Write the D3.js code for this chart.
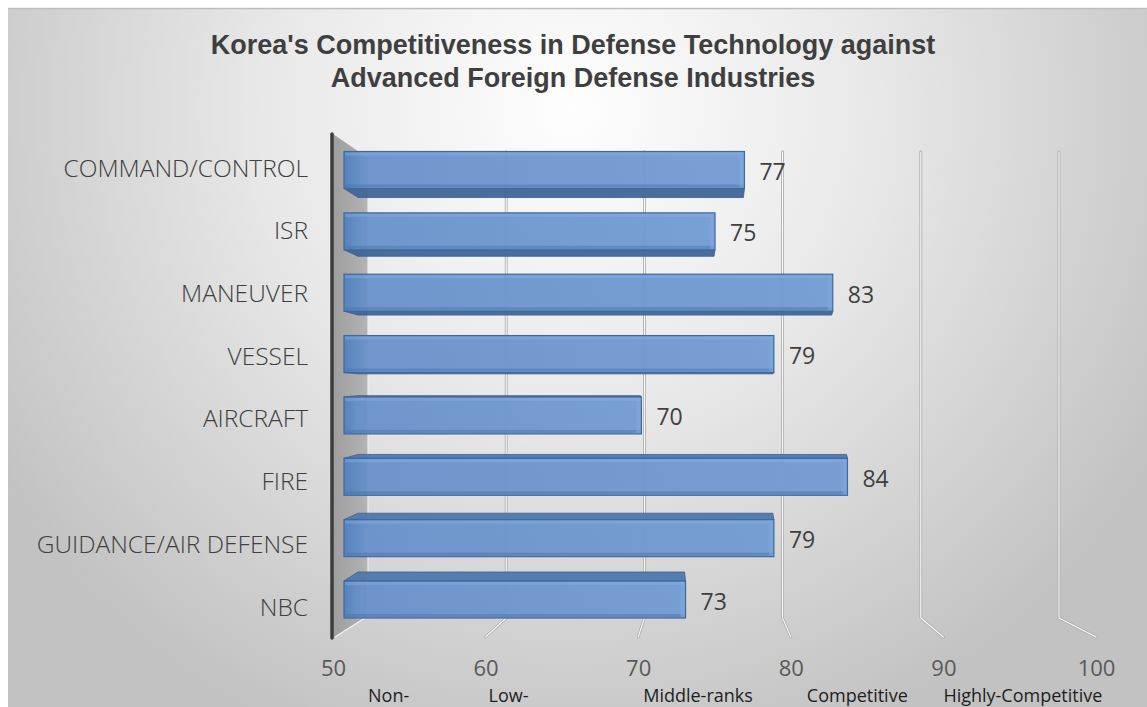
<!DOCTYPE html>
<html><head><meta charset="utf-8">
<script src="https://cdn.jsdelivr.net/npm/d3@7"></script>
<style>html,body{margin:0;padding:0;background:#fff;}svg{display:block;}</style>
</head><body>
<script>
const categories = ["COMMAND/CONTROL","ISR","MANEUVER","VESSEL","AIRCRAFT","FIRE","GUIDANCE/AIR DEFENSE","NBC"];
const values = [77,75,83,79,70,84,79,73];
const tickValues = [50,60,70,80,90,100];
const levelLabels = ["Non-","Low-","Middle-ranks","Competitive","Highly-Competitive"];
const titleLines = ["Korea's Competitiveness in Defense Technology against","Advanced Foreign Defense Industries"];

const W = 1147, H = 707;
const svg = d3.select("body").append("svg").attr("width", W).attr("height", H);
const defs = svg.append("defs");

// background gradient
const bg = defs.append("radialGradient").attr("id","bg").attr("gradientUnits","userSpaceOnUse")
  .attr("cx",570).attr("cy",110).attr("r",680);
bg.append("stop").attr("offset",0).attr("stop-color","#fefefe");
bg.append("stop").attr("offset",0.45).attr("stop-color","#e8e8e8");
bg.append("stop").attr("offset",1).attr("stop-color","#c2c2c2");
svg.append("rect").attr("x",8).attr("y",8).attr("width",W-8).attr("height",H-8).attr("fill","url(#bg)");
svg.append("line").attr("x1",8).attr("x2",W).attr("y1",8.5).attr("y2",8.5).attr("stroke","#bdbdbd").attr("stroke-width",1.5);

// scales (front plane, back plane, bar plane)
const domain = [50,100];
const xFront = d3.scaleLinear().domain(domain).range([333,1096]);
const xBack  = d3.scaleLinear().domain(domain).range([368,1059]);
const xBar   = d3.scaleLinear().domain(domain).range([347,1083]);
const yLabel = d3.scalePoint().domain(categories).range([167,606]);
const yBar   = d3.scalePoint().domain(categories).range([170,599.5]);
const frontH = 37;
const eyeY = 385, persp = 0.042;
const backTop = 152, backBottom = 618, frontBottom = 637;

// title
svg.append("g").selectAll("text").data(titleLines).join("text")
  .attr("x",573).attr("y",(d,i)=>54+i*33).attr("text-anchor","middle")
  .attr("font-family","'Liberation Sans', Arial, sans-serif").attr("font-weight","bold")
  .attr("font-size",27).attr("fill","#3f3f3f").text(d=>d);

// side wall
const wg = defs.append("linearGradient").attr("id","wall").attr("x1",0).attr("x2",1).attr("y1",0).attr("y2",0);
wg.append("stop").attr("offset",0).attr("stop-color","#9e9e9e");
wg.append("stop").attr("offset",1).attr("stop-color","#b3b3b3");
svg.append("path").attr("d",`M333,134 L${xBack(50)},158 L${xBack(50)},${backBottom-2} L333,638 Z`).attr("fill","url(#wall)");
svg.append("line").attr("x1",xBack(50)).attr("x2",xBack(50)).attr("y1",158).attr("y2",backBottom-2)
  .attr("stroke","#ececec").attr("stroke-width",1.2);
svg.append("line").attr("x1",335).attr("y1",637).attr("x2",xBack(50)-3).attr("y2",backBottom)
  .attr("stroke","#f2f2f2").attr("stroke-width",1.4);

// gridlines (3D)
const grid = svg.append("g");
const gridTicks = tickValues.filter(v=>v>50);
const gpath = v => `M${xBack(v)},${backTop} L${xBack(v)},${backBottom} L${xFront(v)},${frontBottom}`;
grid.selectAll("path.o").data(gridTicks).join("path").attr("class","o").attr("d",gpath)
  .attr("fill","none").attr("stroke","#acacac").attr("stroke-width",2.8).attr("stroke-linejoin","round").attr("stroke-linecap","round");
grid.selectAll("path.i").data(gridTicks).join("path").attr("class","i").attr("d",gpath)
  .attr("fill","none").attr("stroke","#fbfbfb").attr("stroke-width",1.1).attr("stroke-linejoin","round").attr("stroke-linecap","round");

// front axis line
svg.append("line").attr("x1",332).attr("x2",332).attr("y1",134).attr("y2",638)
  .attr("stroke","#3c3c3c").attr("stroke-width",3.5).attr("stroke-linecap","round");

// bar gradients
const fg = defs.append("linearGradient").attr("id","barFront").attr("x1",0).attr("x2",1).attr("y1",0).attr("y2",0);
fg.append("stop").attr("offset",0).attr("stop-color","#5080bd");
fg.append("stop").attr("offset",0.035).attr("stop-color","#608dc8");
fg.append("stop").attr("offset",0.05).attr("stop-color","#6590ca");
fg.append("stop").attr("offset",1).attr("stop-color","#6f9ad2");

const bars = svg.append("g").selectAll("g").data(categories.map((c,i)=>({c, v:values[i]}))).join("g");
bars.each(function(d){
  const g = d3.select(this);
  const cy = yBar(d.c);
  const x0 = xBar(50) - 3, x1 = xBar(d.v);
  const yt = cy - frontH/2, yb = cy + frontH/2;
  const dy = (eyeY - cy) * persp;
  const dx = 14;
  if (dy > 0) {
    g.append("path").attr("d",`M${x0},${yb} L${x1},${yb} L${x1-1},${yb+dy} L${x0+dx},${yb+dy} Z`)
      .attr("fill","#3f6698").attr("fill-opacity",0.95).attr("stroke","#3a5f8f").attr("stroke-width",0.8);
  } else if (dy < 0) {
    g.append("path").attr("d",`M${x0},${yt} L${x1},${yt} L${x1-1},${yt+dy} L${x0+dx},${yt+dy} Z`)
      .attr("fill","#4d78ae").attr("fill-opacity",0.95).attr("stroke","#3a5f8f").attr("stroke-width",0.8);
  }
  g.append("rect").attr("x",x0).attr("y",yt).attr("width",x1-x0).attr("height",frontH)
    .attr("fill","url(#barFront)").attr("fill-opacity",0.93).attr("stroke","#40689b").attr("stroke-width",1.2);
  g.append("rect").attr("x",x0+1).attr("y",yt+1).attr("width",x1-x0-2).attr("height",3)
    .attr("fill","#8ab2e4").attr("fill-opacity",0.4);
  g.append("rect").attr("x",x0+1).attr("y",yb-4).attr("width",x1-x0-2).attr("height",3)
    .attr("fill","#4a75ab").attr("fill-opacity",0.5);
  g.append("rect").attr("x",x1-5).attr("y",yt+1).attr("width",4).attr("height",frontH-2)
    .attr("fill","#80aae0").attr("fill-opacity",0.55);
  g.append("text").attr("x",x1+15).attr("y",cy+1).attr("dominant-baseline","central")
    .attr("font-family","'Open Sans', sans-serif").attr("font-size",23).attr("fill","#404040").text(d.v);
});

// category labels
svg.append("g").selectAll("text").data(categories).join("text")
  .attr("x",308).attr("y",d=>yLabel(d)).attr("dominant-baseline","central").attr("text-anchor","end")
  .attr("font-family","'Open Sans', sans-serif").attr("font-weight",300).attr("font-size",24.5).attr("fill","#404040")
  .text(d=>d);

// x tick labels
const xAxis = d3.axisBottom(xFront).tickValues(tickValues).tickSize(0).tickPadding(0).tickFormat(d3.format("d"));
const ax = svg.append("g").attr("transform","translate(0,660)").call(xAxis);
ax.select(".domain").remove();
ax.selectAll("text").attr("font-family","'Open Sans', sans-serif").attr("font-size",22).attr("fill","#595959")
  .attr("dy",null).attr("y",0).attr("dominant-baseline","central").attr("transform","translate(0,7)");

// level labels (placed relative to the tick at the start of each band)
const levelOffset = [35,3,5,16,0];
svg.append("g").selectAll("text").data(levelLabels).join("text")
  .attr("x",(d,i)=>xFront(tickValues[i]) + levelOffset[i]).attr("y",702)
  .attr("font-family","'Open Sans', sans-serif").attr("font-size",18).attr("fill","#1e1e1e").text(d=>d);
</script>
</body></html>
